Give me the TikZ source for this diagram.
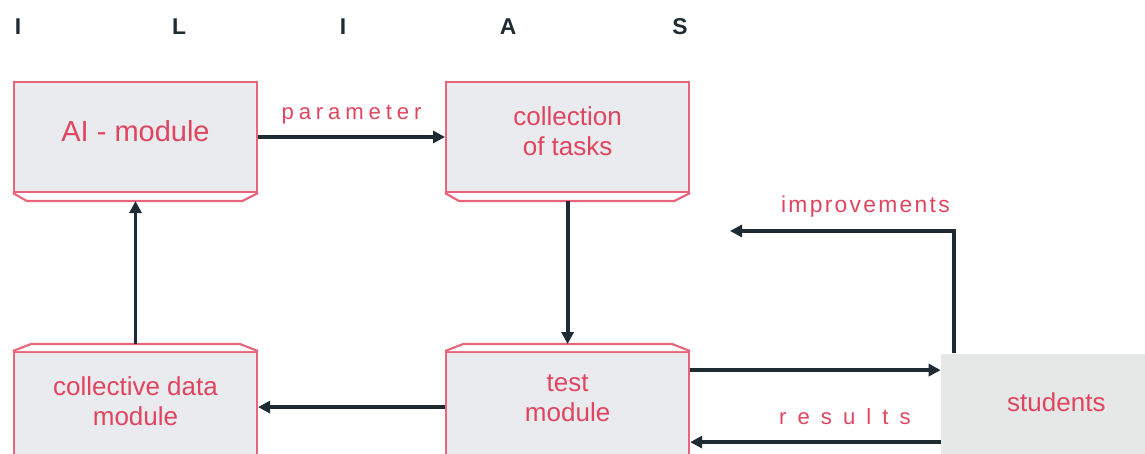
\documentclass[tikz,border=0pt]{standalone}
\usepackage{fontspec}
\setmainfont{Liberation Sans}
\usetikzlibrary{arrows.meta}
\usetikzlibrary{positioning}

\definecolor{boxfill}{HTML}{E9EBEE}
\definecolor{boxline}{HTML}{E8647A}
\definecolor{boxtext}{HTML}{E04560}
\definecolor{arrowc}{HTML}{1F2B33}
\definecolor{studfill}{HTML}{E6E7E7}

\tikzset{
  module/.style={draw=boxline, line width=0.6pt, fill=boxfill, text=boxtext,
    minimum width=2.43cm, minimum height=1.10cm, align=center, inner sep=0pt,
    text depth=3.4pt, font=\fontsize{7.4}{8.6}\selectfont},
  shelf/.style={draw=boxline, line width=0.6pt, fill=white},
  flow/.style={draw=arrowc, line width=1.1pt, -{Triangle[length=0.12cm,width=0.12cm]}},
  tag/.style={text=boxtext, inner sep=0pt},
  head/.style={text=arrowc, inner sep=0pt, font=\bfseries\fontsize{6.5}{7}\selectfont},
}

\begin{document}
\begin{tikzpicture}
\useasboundingbox (0,0) rectangle (11.45,-4.54);
\clip (0,0) rectangle (11.45,-4.54);

\foreach \l/\x [count=\i] in {I/0.18, L/1.79, I/3.43, A/5.08, S/6.80}
  \node[head] (h\i) at (\x,-0.27) {\l};

\node[module, font=\fontsize{8.25}{9.5}\selectfont] (ai) at (1.355,-1.37) {AI - module};
\node[module] (tasks) [right=1.87cm of ai] {collection\\of tasks};
\node[module] (coll) [below=1.58cm of ai] {collective data\\module};
\node[module, text depth=5pt] (test) [below=1.58cm of tasks] {test\\module};
\node[fill=studfill, text=boxtext, minimum width=2.3cm, minimum height=1.06cm, text depth=2.8pt,
  font=\fontsize{7.4}{8.6}\selectfont] (stud) [right=2.505cm of test] {students};

\foreach \n in {ai,tasks}
  \draw[shelf] (\n.south west) -- ++(0.14,-0.08) -- ([shift={(-0.16,-0.08)}]\n.south east) -- (\n.south east);
\foreach \n in {coll,test}
  \draw[shelf] (\n.north west) -- ++(0.18,0.07) -- ([shift={(-0.18,0.07)}]\n.north east) -- (\n.north east);

\coordinate (back) at (7.30,-2.31);

\draw[flow] (ai) -- node[tag, anchor=base, yshift=0.17cm,
  font=\fontsize{6.3}{7}\selectfont\addfontfeature{LetterSpace=22}] {parameter} (tasks);
\draw[flow, shorten <=0.08cm, shorten >=0.07cm] (tasks) -- (test);
\draw[flow, shorten <=0.07cm, shorten >=0.08cm] (coll) -- (ai);
\draw[flow] (test) -- (coll);
\draw[flow] ([yshift=0.37cm]test.east) -- ([yshift=0.37cm]stud.west);
\draw[flow] ([yshift=-0.35cm]stud.west) -- node[tag, pos=0, anchor=base east, xshift=-0.28cm, yshift=0.18cm,
  font=\fontsize{6.3}{7}\selectfont\addfontfeature{LetterSpace=50}] {results} ([yshift=-0.35cm]test.east);
\draw[flow] ([xshift=0.13cm]stud.north west) |- node[tag, pos=0.5, anchor=base east, xshift=-0.02cm, yshift=0.18cm,
  font=\fontsize{6.5}{7}\selectfont\addfontfeature{LetterSpace=10}] {improvements} (back);
\end{tikzpicture}
\end{document}
